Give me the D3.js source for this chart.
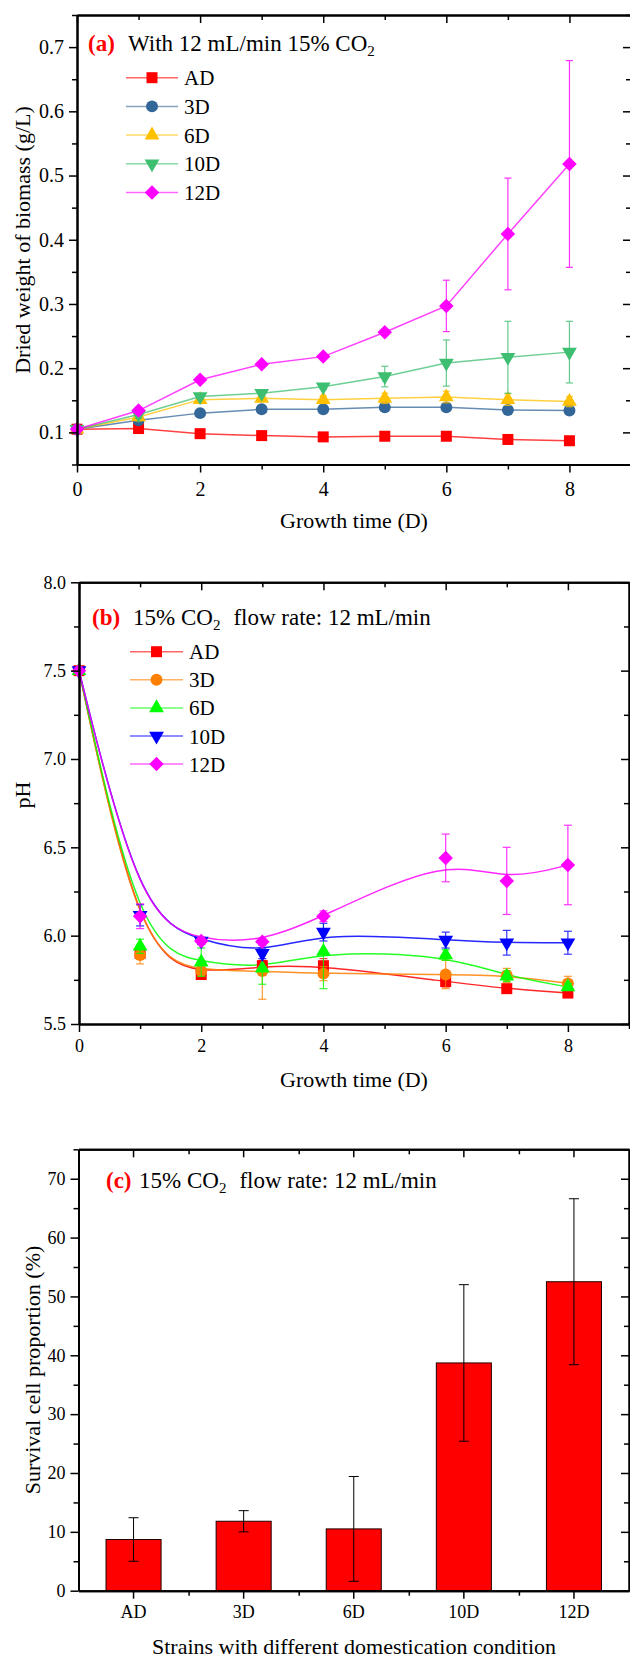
<!DOCTYPE html>
<html lang="en">
<head>
<meta charset="UTF-8" />
<title>Biomass, pH and survival of domesticated strains</title>
<script src="https://d3js.org/d3.v7.min.js"></script>
<style>
  body { margin: 0; background: #fff; }
  svg { display: block; font-family: "Liberation Serif", "Times New Roman", serif; }
  .axis path.domain { stroke: #000; stroke-width: 2; }
  .axis line { stroke: #000; stroke-width: 1.5; }
  .axis text { fill: #000; }
</style>
</head>
<body>
<script>
const days = [0, 1, 2, 3, 4, 5, 6, 7, 8];
const phDays = [0, 1, 2, 3, 4, 6, 7, 8];
const strains = ["AD", "3D", "6D", "10D", "12D"];

// (a) dried weight of biomass (g/L)
const bioAD  = [0.105, 0.106, 0.098, 0.095, 0.093, 0.094, 0.094, 0.089, 0.087];
const bio3D  = [0.105, 0.119, 0.130, 0.136, 0.136, 0.139, 0.139, 0.135, 0.134];
const bio6D  = [0.105, 0.124, 0.151, 0.153, 0.151, 0.153, 0.155, 0.151, 0.148];
const bio10D = [0.105, 0.128, 0.156, 0.161, 0.171, 0.187, 0.208, 0.217, 0.225];
const bio12D = [0.105, 0.134, 0.182, 0.206, 0.218, 0.256, 0.297, 0.409, 0.518];
const bioErrAD  = [0.002, 0.003, 0.003, 0.002, 0.002, 0.002, 0.002, 0.003, 0.002];
const bioErr3D  = [0.002, 0.004, 0.003, 0.004, 0.003, 0.003, 0.004, 0.004, 0.003];
const bioErr6D  = [0.002, 0.006, 0.006, 0.005, 0.006, 0.008, 0.009, 0.009, 0.008];
const bioErr10D = [0.002, 0.006, 0.004, 0.004, 0.004, 0.016, 0.036, 0.056, 0.048];
const bioErr12D = [0.002, 0.005, 0.004, 0.003, 0.004, 0.004, 0.040, 0.087, 0.161];

// (b) pH
const phAD  = [7.5, 5.90, 5.78, 5.83, 5.83, 5.74, 5.70, 5.675];
const ph3D  = [7.5, 5.89, 5.80, 5.80, 5.785, 5.78, 5.775, 5.73];
const ph6D  = [7.5, 5.94, 5.85, 5.815, 5.91, 5.89, 5.77, 5.71];
const ph10D = [7.5, 6.115, 5.97, 5.90, 6.02, 5.975, 5.96, 5.96];
const ph12D = [7.5, 6.11, 5.97, 5.965, 6.11, 6.44, 6.31, 6.40];
const phErrAD  = [0.01, 0.03, 0.02, 0.03, 0.04, 0.03, 0.015, 0.015];
const phErr3D  = [0.01, 0.05, 0.03, 0.16, 0.04, 0.08, 0.04, 0.04];
const phErr6D  = [0.01, 0.04, 0.08, 0.09, 0.21, 0.03, 0.03, 0.02];
const phErr10D = [0.01, 0.06, 0.02, 0.03, 0.05, 0.045, 0.07, 0.065];
const phErr12D = [0.01, 0.07, 0.02, 0.02, 0.03, 0.135, 0.19, 0.225];

// (c) survival cell proportion (%)
const survival    = [8.7, 11.8, 10.5, 38.7, 52.5];
const survivalErr = [3.7, 1.8, 8.9, 13.3, 14.1];

const colorsA = ["#ff0000", "#336699", "#ffc000", "#3dbe70", "#ff00ff"];
const colorsB = ["#ff0000", "#ff8000", "#00ff00", "#0000ff", "#ff00ff"];

const FONT = '"Liberation Serif", "Times New Roman", serif';
const W = 630, H = 1658;
const svg = d3.select("body").append("svg").attr("width", W).attr("height", H)
  .attr("font-family", FONT);

// marker shapes: square, circle, up triangle, down triangle, diamond
const symTypes = [d3.symbolSquare, d3.symbolCircle, d3.symbolTriangle, d3.symbolTriangle, d3.symbolSquare];
const symSizes = [121, 112, 95, 95, 105];
const symRot = [0, 0, 0, 180, 45];

function marker(g, k, cx, cy, color) {
  g.append("path")
    .attr("d", d3.symbol().type(symTypes[k]).size(symSizes[k])())
    .attr("transform", `translate(${cx},${cy}) rotate(${symRot[k]})`)
    .attr("fill", color);
}

function errorBars(g, xs, vals, errs, x, y, color, cap, opacity) {
  xs.forEach((d, i) => {
    const e = errs[i];
    const px = x(d), top = y(vals[i] + e), bot = y(vals[i] - e);
    const gg = g.append("g").attr("stroke", color).attr("stroke-width", 1.2).attr("opacity", opacity);
    gg.append("line").attr("x1", px).attr("x2", px).attr("y1", top).attr("y2", bot);
    gg.append("line").attr("x1", px - cap).attr("x2", px + cap).attr("y1", top).attr("y2", top);
    gg.append("line").attr("x1", px - cap).attr("x2", px + cap).attr("y1", bot).attr("y2", bot);
  });
}

function frame(g, o) {
  const [yb, yt] = o.y.range();
  const [xl, xr] = o.xMinorScale.range();
  const fixText = sel => sel.attr("font-family", FONT).attr("font-size", o.fs);

  g.append("g").attr("class", "axis").attr("transform", `translate(0,${yb})`)
    .call(d3.axisBottom(o.x).tickValues(o.xMajor).tickSize(8).tickSizeOuter(0)
      .tickPadding(o.padX).tickFormat(o.fx))
    .call(fixText);
  g.append("g").attr("class", "axis").attr("transform", `translate(0,${yb})`)
    .call(d3.axisBottom(o.xMinorScale).tickValues(o.xMinor).tickSize(5).tickSizeOuter(0).tickFormat(""));
  g.append("g").attr("class", "axis").attr("transform", `translate(0,${yt})`)
    .call(d3.axisTop(o.x).tickValues(o.xMajor).tickSize(-8).tickSizeOuter(0).tickFormat(""));
  g.append("g").attr("class", "axis").attr("transform", `translate(0,${yt})`)
    .call(d3.axisTop(o.xMinorScale).tickValues(o.xMinor).tickSize(-5).tickSizeOuter(0).tickFormat(""));

  g.append("g").attr("class", "axis").attr("transform", `translate(${xl},0)`)
    .call(d3.axisLeft(o.y).tickValues(o.yMajor).tickSize(8).tickSizeOuter(0)
      .tickPadding(5).tickFormat(o.fy))
    .call(fixText);
  g.append("g").attr("class", "axis").attr("transform", `translate(${xl},0)`)
    .call(d3.axisLeft(o.y).tickValues(o.yMinor).tickSize(5).tickSizeOuter(0).tickFormat(""));
  g.append("g").attr("class", "axis").attr("transform", `translate(${xr},0)`)
    .call(d3.axisRight(o.y).tickValues(o.yMajor).tickSize(-8).tickSizeOuter(0).tickFormat(""));
  g.append("g").attr("class", "axis").attr("transform", `translate(${xr},0)`)
    .call(d3.axisRight(o.y).tickValues(o.yMinor).tickSize(-5).tickSizeOuter(0).tickFormat(""));
}

function panelTitle(g, letter, lx, tx, by, before, after) {
  const t = g.append("text").attr("y", by).attr("font-size", 23).attr("fill", "#000");
  t.append("tspan").attr("x", lx).attr("fill", "#ff0000").attr("font-weight", "bold").text(letter);
  t.append("tspan").attr("x", tx).text(before);
  t.append("tspan").attr("font-size", 15).attr("dy", 5).text("2");
  if (after) t.append("tspan").attr("dy", -5).attr("dx", 13).text(after);
}

function legend(g, colors, x0, x1, labelX, y0, step, lineOpacity) {
  strains.forEach((s, k) => {
    const cy = y0 + k * step;
    g.append("line").attr("x1", x0).attr("x2", x1).attr("y1", cy).attr("y2", cy)
      .attr("stroke", colors[k]).attr("stroke-width", 1.5).attr("stroke-opacity", lineOpacity);
    marker(g, k, (x0 + x1) / 2, cy, colors[k]);
    g.append("text").attr("x", labelX).attr("y", cy + 7.5).attr("font-size", 21).text(s);
  });
}

function yTitle(g, x, y, txt) {
  g.append("text").attr("transform", `translate(${x},${y}) rotate(-90)`)
    .attr("text-anchor", "middle").attr("font-size", 22).text(txt);
}

function xTitle(g, x, y, txt) {
  g.append("text").attr("x", x).attr("y", y).attr("text-anchor", "middle").attr("font-size", 22).text(txt);
}

// ---------- (a) ----------
{
  const g = svg.append("g");
  const x = d3.scaleLinear().domain([0, 9]).range([77, 631]);
  const y = d3.scaleLinear().domain([0.05, 0.75]).range([464.5, 15]);
  const series = [bioAD, bio3D, bio6D, bio10D, bio12D];
  const errs = [bioErrAD, bioErr3D, bioErr6D, bioErr10D, bioErr12D];
  const line = d3.line().x((d, i) => x(days[i])).y(d => y(d));

  series.forEach((vals, k) => {
    g.append("path").attr("d", line(vals)).attr("fill", "none")
      .attr("stroke", colorsA[k]).attr("stroke-width", 1.5).attr("stroke-opacity", 0.75);
    errorBars(g, days, vals, errs[k], x, y, colorsA[k], 3.5, 0.8);
    vals.forEach((v, i) => marker(g, k, x(days[i]), y(v), colorsA[k]));
  });

  frame(g, {
    x, y, xMinorScale: x,
    xMajor: [0, 2, 4, 6, 8], xMinor: [1, 3, 5, 7, 9],
    yMajor: [0.1, 0.2, 0.3, 0.4, 0.5, 0.6, 0.7], yMinor: [0.05, 0.15, 0.25, 0.35, 0.45, 0.55, 0.65, 0.75],
    fx: d3.format("d"), fy: d3.format(".1f"), fs: 20, padX: 9
  });

  panelTitle(g, "(a)", 88, 128, 51, "With 12 mL/min 15% CO", null);
  legend(g, colorsA, 126, 178, 184, 77.7, 28.7, 0.6);
  xTitle(g, 354, 528, "Growth time (D)");
  yTitle(g, 30, 240, "Dried weight of biomass (g/L)");
}

// ---------- (b) ----------
{
  const g = svg.append("g");
  const x = d3.scaleLinear().domain([0, 9]).range([79, 629]);
  const y = d3.scaleLinear().domain([5.5, 8.0]).range([1024, 582.3]);
  const series = [phAD, ph3D, ph6D, ph10D, ph12D];
  const errs = [phErrAD, phErr3D, phErr6D, phErr10D, phErr12D];
  const curve = d3.line().x((d, i) => x(phDays[i])).y(d => y(d)).curve(d3.curveBasis);

  series.forEach((vals, k) => {
    g.append("path").attr("d", curve(vals)).attr("fill", "none")
      .attr("stroke", colorsB[k]).attr("stroke-width", 1.5).attr("stroke-opacity", 0.85);
  });
  series.forEach((vals, k) => {
    errorBars(g, phDays, vals, errs[k], x, y, colorsB[k], 4, 0.8);
    vals.forEach((v, i) => marker(g, k, x(phDays[i]), y(v), colorsB[k]));
  });

  frame(g, {
    x, y, xMinorScale: x,
    xMajor: [0, 2, 4, 6, 8], xMinor: [1, 3, 5, 7, 9],
    yMajor: [5.5, 6.0, 6.5, 7.0, 7.5, 8.0], yMinor: [5.75, 6.25, 6.75, 7.25, 7.75],
    fx: d3.format("d"), fy: d3.format(".1f"), fs: 18, padX: 7
  });

  panelTitle(g, "(b)", 92, 133, 625, "15% CO", "flow rate: 12 mL/min");
  legend(g, colorsB, 130, 183, 189, 651.7, 28.1, 0.6);
  xTitle(g, 354, 1087, "Growth time (D)");
  yTitle(g, 30, 795, "pH");
}

// ---------- (c) ----------
{
  const g = svg.append("g");
  const x = d3.scaleBand().domain(strains).range([78.5, 629]).paddingInner(0.5).paddingOuter(0.25);
  const xGap = d3.scaleLinear().domain([0, strains.length]).range(x.range());
  const y = d3.scaleLinear().domain([0, 75]).range([1590.7, 1149.3]);

  g.selectAll("rect.bar").data(survival).join("rect").attr("class", "bar")
    .attr("x", (d, i) => x(strains[i])).attr("width", x.bandwidth())
    .attr("y", d => y(d)).attr("height", d => y(0) - y(d))
    .attr("fill", "#ff0000").attr("stroke", "#200000").attr("stroke-width", 1);

  const cx = strains.map(s => x(s) + x.bandwidth() / 2);
  strains.forEach((s, i) => {
    const gg = g.append("g").attr("stroke", "#000").attr("stroke-width", 1);
    const top = y(survival[i] + survivalErr[i]), bot = y(survival[i] - survivalErr[i]);
    gg.append("line").attr("x1", cx[i]).attr("x2", cx[i]).attr("y1", top).attr("y2", bot);
    gg.append("line").attr("x1", cx[i] - 5).attr("x2", cx[i] + 5).attr("y1", top).attr("y2", top);
    gg.append("line").attr("x1", cx[i] - 5).attr("x2", cx[i] + 5).attr("y1", bot).attr("y2", bot);
  });

  frame(g, {
    x, y, xMinorScale: xGap,
    xMajor: strains, xMinor: [1, 2, 3, 4],
    yMajor: [0, 10, 20, 30, 40, 50, 60, 70], yMinor: [5, 15, 25, 35, 45, 55, 65, 75],
    fx: d => d, fy: d3.format("d"), fs: 18, padX: 7
  });

  panelTitle(g, "(c)", 106, 139, 1188, "15% CO", "flow rate: 12 mL/min");
  xTitle(g, 354, 1654, "Strains with different domestication condition");
  yTitle(g, 40, 1370, "Survival cell proportion (%)");
}
</script>
</body>
</html>
